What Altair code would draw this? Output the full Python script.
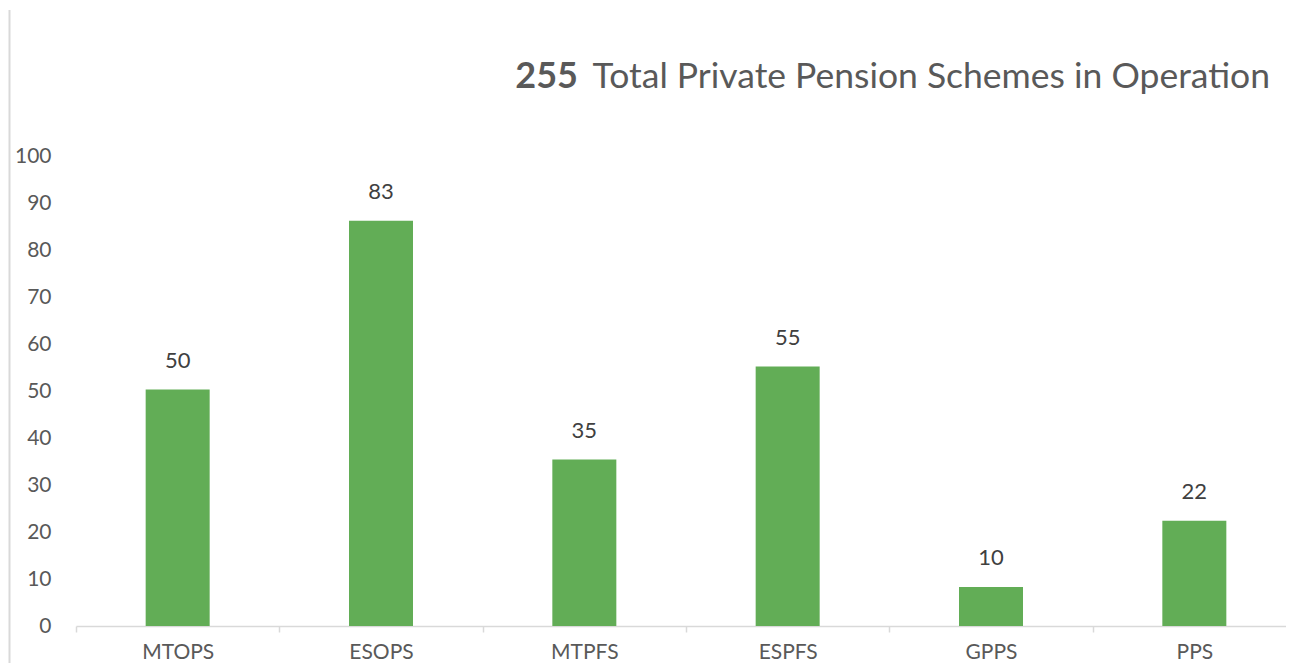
import altair as alt
import pandas as pd

categories = ["MTOPS", "ESOPS", "MTPFS", "ESPFS", "GPPS", "PPS"]
bar_heights = [50.3, 86.2, 35.4, 55.2, 8.3, 22.4]
bar_labels = ["50", "83", "35", "55", "10", "22"]
title_number = "255"
title_rest = "Total Private Pension Schemes in Operation"

df = pd.DataFrame({"cat": categories, "v": bar_heights, "lab": bar_labels})

FONT = "Lato"
GRAY = "#595959"

x = alt.X("cat:N", sort=categories, title=None,
          scale=alt.Scale(paddingInner=0, paddingOuter=0, range=[0, 1220]),
          axis=alt.Axis(labelAngle=0, labelFontSize=21, labelColor=GRAY, labelFont=FONT,
                        domainColor="#d9d9d9", domainWidth=1.5, tickColor="#d9d9d9",
                        tickWidth=1.5, tickSize=6, tickBand="extent", labelPadding=9))
y = alt.Y("v:Q", title=None, scale=alt.Scale(domain=[0, 100], nice=False),
          axis=alt.Axis(values=list(range(0, 101, 10)), domain=False, ticks=False, grid=False,
                        labelFontSize=21, labelColor=GRAY, labelFont=FONT, labelPadding=25))

base = alt.Chart(df)
bars = base.mark_bar(size=64, color="#62AD56").encode(x=x, y=y)
labels = base.mark_text(fontSize=22, color="#404040", font=FONT, dy=-29).encode(
    x=alt.X("cat:N", sort=categories), y="v:Q", text="lab:N")

t1 = alt.Chart(pd.DataFrame({"t": [title_rest]})).mark_text(
    fontSize=35.5, color=GRAY, font=FONT, align="right", baseline="alphabetic").encode(
    x=alt.value(1194), y=alt.value(-68), text="t:N")
t2 = alt.Chart(pd.DataFrame({"t": [title_number]})).mark_text(
    fontSize=36, color=GRAY, font=FONT, fontWeight="bold", align="right", baseline="alphabetic").encode(
    x=alt.value(502), y=alt.value(-68), text="t:N")
border = alt.Chart(pd.DataFrame({"a": [0]})).mark_rule(color="#d9d9d9", strokeWidth=2).encode(
    x=alt.value(-66.5), y=alt.value(-146), y2=alt.value(520))

chart = alt.layer(border, bars, labels, t1, t2).properties(
    width=1210, height=470,
    autosize=alt.AutoSizeParams(type="none"),
    padding={"left": 68, "top": 148, "right": 0, "bottom": 37},
).configure_view(stroke=None)

chart.save("out.html", embed_options={"renderer": "svg", "actions": False})
